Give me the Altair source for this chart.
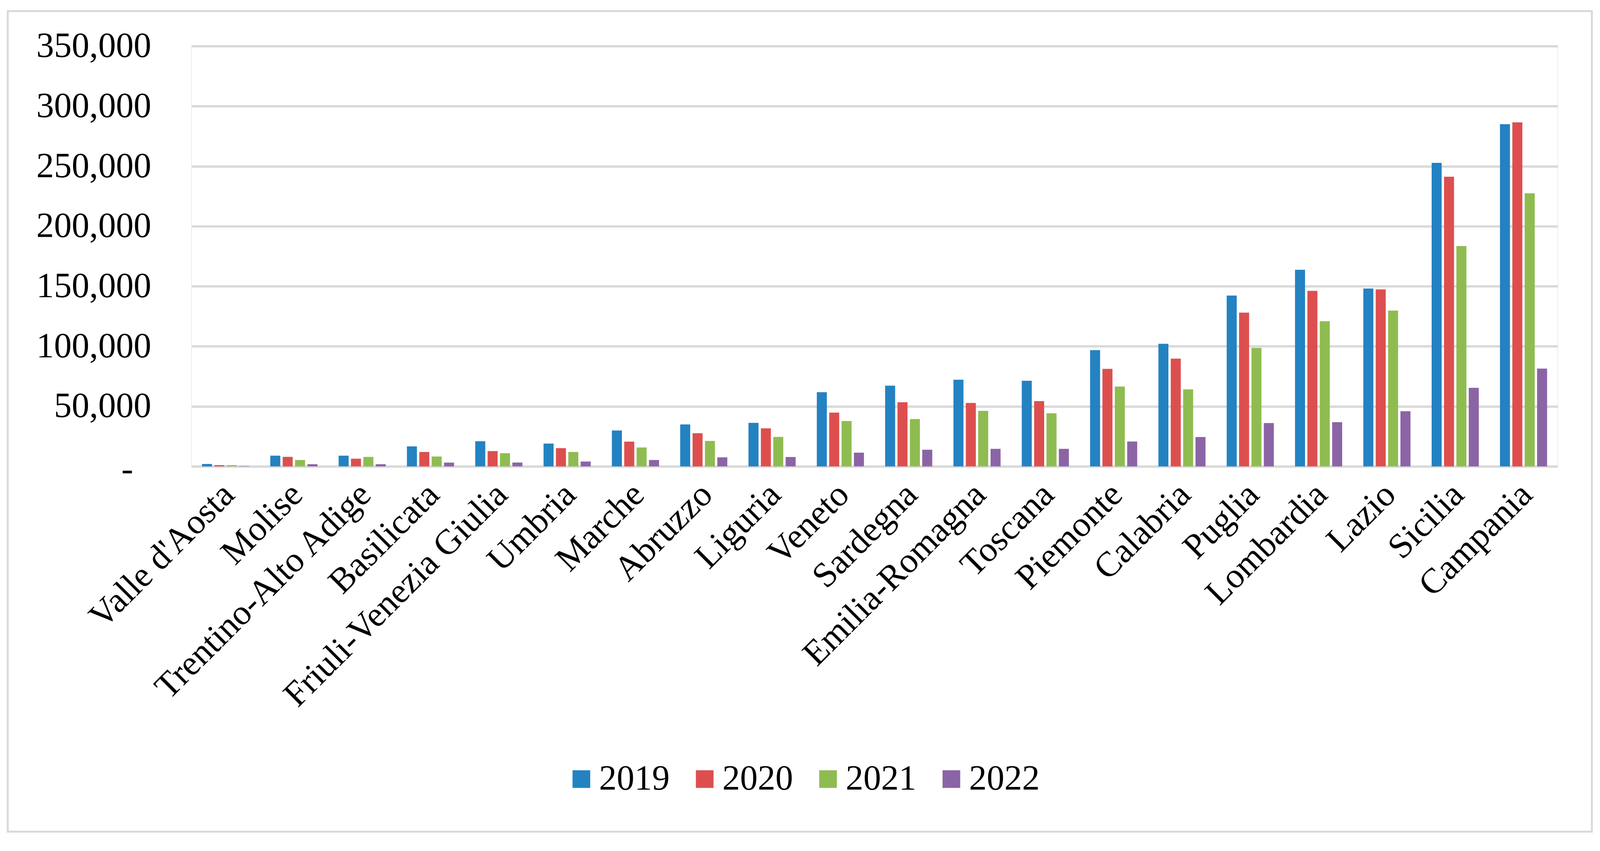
import altair as alt
import pandas as pd

regions = ["Valle d'Aosta", "Molise", "Trentino-Alto Adige", "Basilicata", "Friuli-Venezia Giulia",
           "Umbria", "Marche", "Abruzzo", "Liguria", "Veneto", "Sardegna", "Emilia-Romagna",
           "Toscana", "Piemonte", "Calabria", "Puglia", "Lombardia", "Lazio", "Sicilia", "Campania"]
years = ["2019", "2020", "2021", "2022"]
v2019 = [2000, 8900, 8900, 16600, 20900, 19000, 29900, 34900, 36200, 61800, 67200, 72200,
         71300, 96800, 102100, 142300, 163700, 148100, 252800, 285000]
v2020 = [1000, 7900, 6400, 12000, 12700, 15200, 20600, 27600, 31700, 44800, 53400, 52800,
         54400, 81200, 89700, 128000, 146200, 147400, 241200, 286500]
v2021 = [1000, 5300, 7900, 8200, 10900, 12000, 15700, 21200, 24500, 37800, 39400, 46200,
         44200, 66500, 64100, 98700, 120900, 129700, 183500, 227400]
v2022 = [300, 1800, 1800, 3100, 3200, 4000, 5300, 7500, 7800, 11400, 13900, 14600,
         14600, 20700, 24400, 36100, 36800, 45900, 65400, 81400]
colors = ["#2382C2", "#DD4F4E", "#8FBC51", "#8B64A6"]
y_ticks = [0, 50000, 100000, 150000, 200000, 250000, 300000, 350000]

rows = []
for yr, vals in zip(years, [v2019, v2020, v2021, v2022]):
    for r, v in zip(regions, vals):
        rows.append({"region": r, "year": yr, "value": v})
df = pd.DataFrame(rows)

FONT = "Liberation Serif"
GRID = "#D9D9D9"

bars = alt.Chart(df).mark_bar().encode(
    x=alt.X("region:N", sort=regions, title=None,
            scale=alt.Scale(paddingInner=0.31, paddingOuter=0.155),
            axis=alt.Axis(labelAngle=-45, labelFont=FONT, labelFontSize=92, labelColor="black",
                          ticks=False, domain=True, domainColor=GRID, domainWidth=6,
                          labelPadding=27, labelOffset=-24, labelLimit=3000)),
    xOffset=alt.XOffset("year:N", sort=years,
                        scale=alt.Scale(paddingInner=0.19, paddingOuter=0)),
    y=alt.Y("value:Q", title=None,
            scale=alt.Scale(domain=[0, 350000], nice=False),
            axis=alt.Axis(values=y_ticks, labelFont=FONT, labelFontSize=92, labelColor="black",
                          ticks=False, domain=False, grid=True, gridColor=GRID, gridWidth=6,
                          labelPadding={"condition": {"test": "datum.value === 0", "value": 152},
                                        "value": 105},
                          labelOffset={"condition": {"test": "datum.value === 0", "value": 8},
                                       "value": 0},
                          labelLimit=3000,
                          labelExpr="datum.value === 0 ? '-' : format(datum.value, ',')")),
    color=alt.Color("year:N", sort=years,
                    scale=alt.Scale(domain=years, range=colors),
                    legend=alt.Legend(title=None, orient="none", direction="horizontal",
                                      legendX=969, legendY=1862,
                                      labelFont=FONT, labelFontSize=92, labelColor="black",
                                      labelLimit=3000,
                                      symbolType="square", symbolSize=2116,
                                      symbolStrokeWidth=0, labelOffset=0,
                                      columnPadding=45)),
)

frame = alt.Chart(pd.DataFrame({"a": [0]})).mark_rect(
    fillOpacity=0, stroke=GRID, strokeWidth=5
).encode(x=alt.value(-478), x2=alt.value(3645), y=alt.value(-91), y2=alt.value(2045))

chart = alt.layer(bars, frame).properties(
    width=3556, height=1094,
    autosize=alt.AutoSizeParams(type="none"),
    padding={"left": 490, "top": 94, "right": 102, "bottom": 960},
).configure_view(stroke=None).configure(background="white")

chart.save("out.html", embed_options={"renderer": "svg", "actions": False})
